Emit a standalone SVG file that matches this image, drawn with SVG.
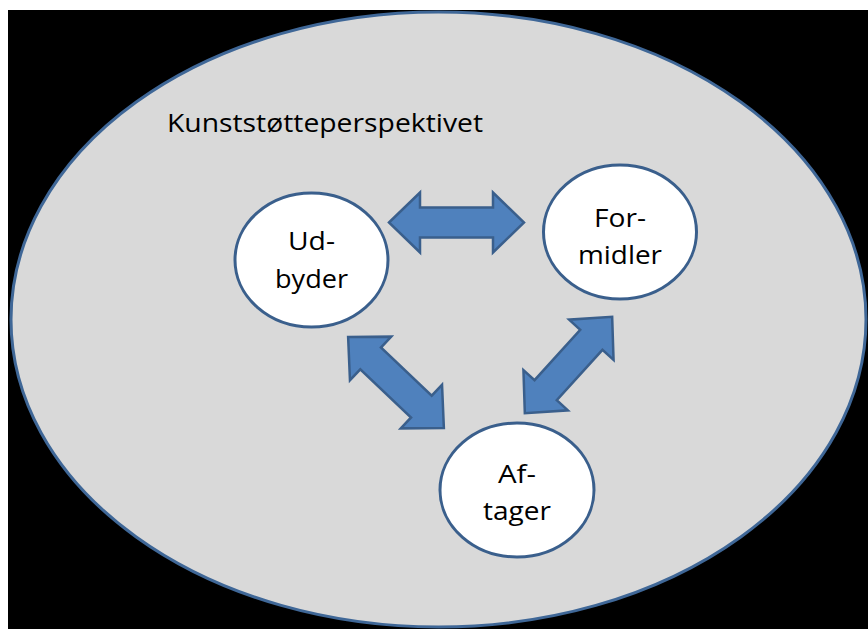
<svg xmlns="http://www.w3.org/2000/svg" width="868" height="629" viewBox="0 0 868 629">
<style>
.bg{fill:#000}
.outer{fill:#d9d9d9;stroke:#3f6797;stroke-width:3}
.node{fill:#fff;stroke:#3a5f8c;stroke-width:3}
.arrow{fill:#4f81bd;stroke:#3a5f8c;stroke-width:2.5;stroke-linejoin:miter}
text{font-family:"Open Sans","Noto Sans",sans-serif;font-size:26px;fill:#000}
.c{text-anchor:middle}
</style>
<defs>
<path id="ah" d="M -67.5 0 L -36.5 -30 L -36.5 -15 L 36.5 -15 L 36.5 -30 L 67.5 0 L 36.5 30 L 36.5 15 L -36.5 15 L -36.5 30 Z"/>
</defs>
<rect x="0" y="0" width="868" height="629" fill="#fff"/>
<rect class="bg" x="8" y="10" width="860" height="619"/>
<g id="frame">
<ellipse class="outer" cx="438.5" cy="319.5" rx="427.5" ry="307.5"/>
<text x="167" y="132" textLength="316" lengthAdjust="spacingAndGlyphs">Kunststøtteperspektivet</text>
</g>
<g id="connectors">
<path class="arrow" d="M 389 222.5 L 420 192.5 L 420 207.5 L 493 207.5 L 493 192.5 L 524 222.5 L 493 252.5 L 493 237.5 L 420 237.5 L 420 252.5 Z"/>
<path class="arrow" transform="translate(396 382.5) rotate(43.5)" d="M -66 0 L -35 -30 L -35 -15 L 35 -15 L 35 -30 L 66 0 L 35 30 L 35 15 L -35 15 L -35 30 Z"/>
<path class="arrow" transform="translate(568.5 365) rotate(-47.8)" d="M -65 0 L -34 -30 L -34 -15 L 34 -15 L 34 -30 L 65 0 L 34 30 L 34 15 L -34 15 L -34 30 Z"/>
</g>
<g id="udbyder">
<ellipse class="node" cx="311.5" cy="260" rx="76.5" ry="67"/>
<text class="c" x="311.5" y="250" textLength="47" lengthAdjust="spacingAndGlyphs">Ud-</text>
<text class="c" x="311.5" y="288" textLength="73" lengthAdjust="spacingAndGlyphs">byder</text>
</g>
<g id="formidler">
<ellipse class="node" cx="620" cy="232" rx="76.5" ry="67"/>
<text class="c" x="620" y="227" textLength="52" lengthAdjust="spacingAndGlyphs">For-</text>
<text class="c" x="620" y="264" textLength="84" lengthAdjust="spacingAndGlyphs">midler</text>
</g>
<g id="aftager">
<ellipse class="node" cx="517" cy="490" rx="77" ry="67"/>
<text class="c" x="517" y="483" textLength="38" lengthAdjust="spacingAndGlyphs">Af-</text>
<text class="c" x="517" y="520" textLength="68" lengthAdjust="spacingAndGlyphs">tager</text>
</g>
</svg>
